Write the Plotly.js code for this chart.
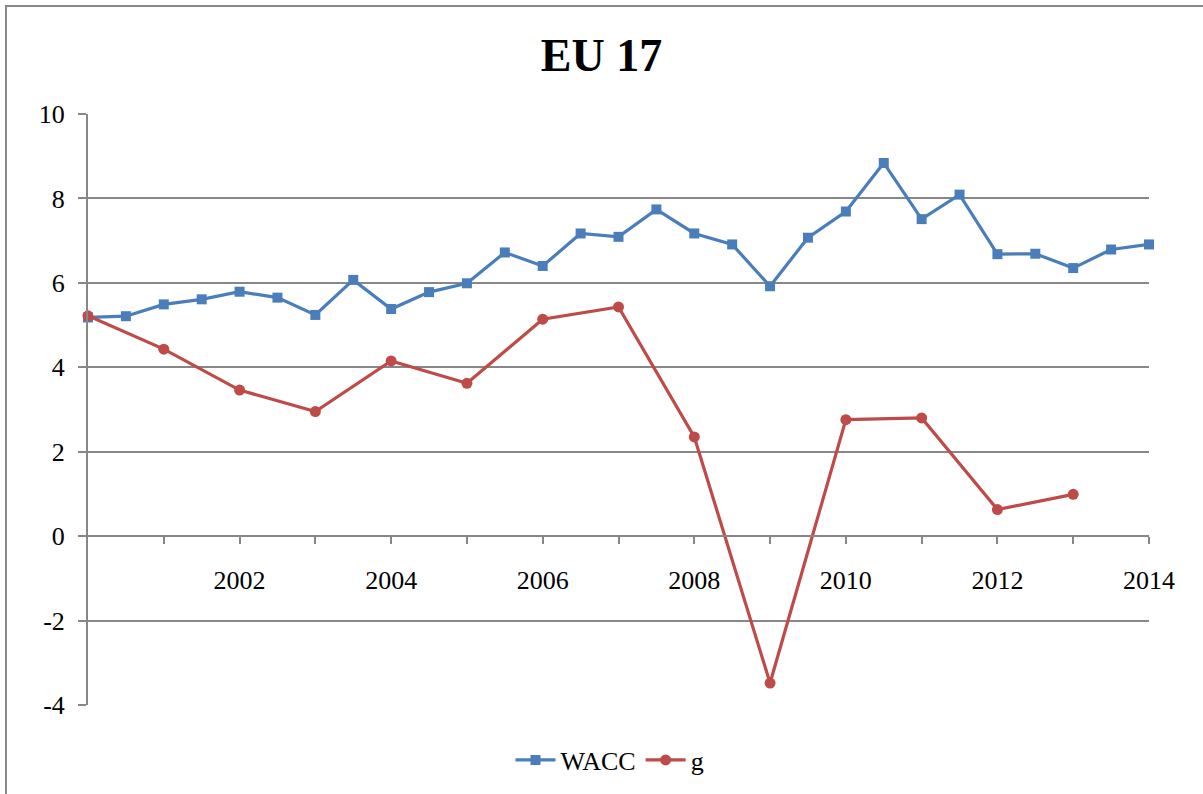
<!DOCTYPE html>
<html>
<head>
<meta charset="utf-8">
<script src="https://cdn.plot.ly/plotly-3.0.1.min.js"></script>
<style>
html, body { margin: 0; padding: 0; overflow: hidden; background: #fff; }
#wrap { position: relative; width: 1203px; height: 794px; overflow: hidden; }
#chart { position: absolute; left: 0; top: 0; width: 1203px; height: 794px; }
#frame { position: absolute; left: 5px; top: 5px; width: 1400px; height: 1000px;
         border-left: 2.5px solid #878787; border-top: 2.5px solid #878787; pointer-events: none; }
</style>
</head>
<body>
<div id="wrap">
  <div id="chart"></div>
  <div id="frame"></div>
</div>
<script>
// WACC: semi-annual observations
const waccX = [2000, 2000.5, 2001, 2001.5, 2002, 2002.5, 2003, 2003.5, 2004, 2004.5,
               2005, 2005.5, 2006, 2006.5, 2007, 2007.5, 2008, 2008.5, 2009, 2009.5,
               2010, 2010.5, 2011, 2011.5, 2012, 2012.5, 2013, 2013.5, 2014];
const waccY = [5.18, 5.21, 5.49, 5.61, 5.79, 5.65, 5.24, 6.07, 5.38, 5.78,
               5.99, 6.72, 6.40, 7.17, 7.09, 7.74, 7.17, 6.91, 5.92, 7.07,
               7.69, 8.84, 7.51, 8.09, 6.68, 6.69, 6.35, 6.79, 6.91];

// g: annual observations
const gX = [2000, 2001, 2002, 2003, 2004, 2005, 2006, 2007, 2008, 2009, 2010, 2011, 2012, 2013];
const gY = [5.22, 4.43, 3.46, 2.95, 4.15, 3.62, 5.14, 5.43, 2.35, -3.48, 2.76, 2.80, 0.63, 0.99];

// x-axis ticks (every year) and labels (every second year)
const xTickVals = [2001, 2002, 2003, 2004, 2005, 2006, 2007, 2008, 2009, 2010, 2011, 2012, 2013, 2014];
const xTickText = ['', '2002', '', '2004', '', '2006', '', '2008', '', '2010', '', '2012', '', '2014'];

const yTickVals = [-4, -2, 0, 2, 4, 6, 8, 10];
const yTickText = ['-4', '-2', '0', '2', '4', '6', '8', '10'];

const seriesNames = ['WACC', 'g'];
const chartTitle = 'EU 17';

const blue = '#4A7EBB';
const red = '#BE4B48';
const grey = '#878787';
const serif = 'Liberation Serif, Times New Roman, serif';

const traces = [
  {
    x: waccX, y: waccY, name: seriesNames[0], type: 'scatter', mode: 'lines+markers',
    line: { color: blue, width: 3.2 },
    marker: { symbol: 'square', size: 10, color: blue },
    cliponaxis: false
  },
  {
    x: gX, y: gY, name: seriesNames[1], type: 'scatter', mode: 'lines+markers',
    line: { color: red, width: 3.2 },
    marker: { symbol: 'circle', size: 11, color: red },
    cliponaxis: false
  }
];

const layout = {
  width: 1203, height: 794,
  margin: { l: 88, r: 54, t: 114, b: 89, pad: 0 },
  paper_bgcolor: 'rgba(0,0,0,0)',
  plot_bgcolor: 'rgba(0,0,0,0)',
  font: { family: serif, size: 26, color: '#000' },
  title: {
    text: '<b>' + chartTitle + '</b>',
    font: { family: serif, size: 46, color: '#000' },
    x: 0.5, xanchor: 'center', xref: 'container',
    y: 1 - 55 / 794, yanchor: 'middle', yref: 'container'
  },
  xaxis: {
    range: [2000, 2014],
    tickmode: 'array', tickvals: xTickVals, ticktext: xTickText,
    ticks: 'outside', ticklen: 7, tickwidth: 2, tickcolor: grey,
    ticklabelstandoff: 14,
    showline: true, linecolor: grey, linewidth: 2,
    showgrid: false, zeroline: false,
    anchor: 'free', position: 4 / 14,
    tickfont: { family: serif, size: 26, color: '#000' },
    fixedrange: true
  },
  yaxis: {
    range: [-4, 10],
    tickmode: 'array', tickvals: yTickVals, ticktext: yTickText,
    ticks: 'outside', ticklen: 8, tickwidth: 2, tickcolor: grey,
    ticklabelstandoff: 8,
    showline: true, linecolor: grey, linewidth: 2,
    showgrid: true, gridcolor: grey, gridwidth: 2,
    zeroline: false,
    tickfont: { family: serif, size: 26, color: '#000' },
    fixedrange: true
  },
  showlegend: true,
  legend: {
    orientation: 'h',
    x: 610 / 1203, xanchor: 'center', xref: 'container',
    y: 1 - 760 / 794, yanchor: 'middle', yref: 'container',
    font: { family: serif, size: 26, color: '#000' },
    bgcolor: 'rgba(0,0,0,0)',
    itemwidth: 40
  }
};

Plotly.newPlot('chart', traces, layout, { displayModeBar: false, staticPlot: true });
</script>
</body>
</html>
